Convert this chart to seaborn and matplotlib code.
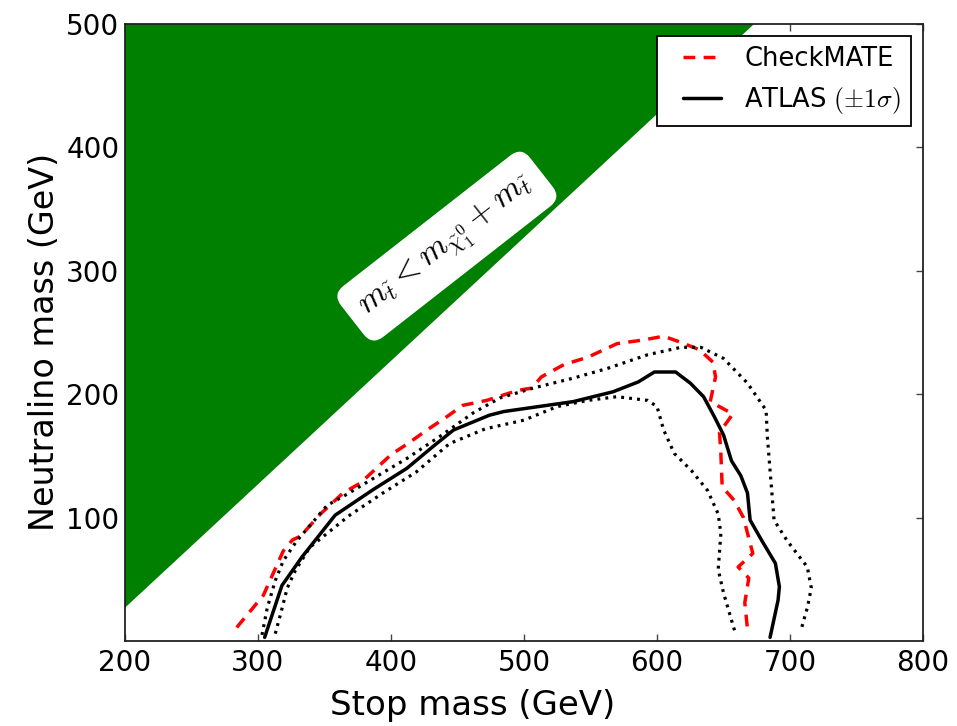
import numpy as np
import pandas as pd
import matplotlib
matplotlib.use("Agg")
import matplotlib.pyplot as plt
from matplotlib.legend_handler import HandlerLine2D
import seaborn as sns

# ---------------- data ----------------
checkmate_x = [284, 304, 319, 326, 332, 347, 364, 377, 389, 400, 414, 427, 441, 454, 472,
               495, 506, 513, 530, 548, 570, 590, 605, 618, 632, 642, 644, 640, 657, 647,
               648, 649, 658, 665, 672, 661, 669, 666, 668]
checkmate_y = [11, 37, 73, 82, 85, 103, 120, 128, 140, 151, 161, 171, 181, 191, 195,
               203, 205, 214, 224, 230, 241, 244, 247, 242, 236, 226, 214, 194, 184, 169,
               152, 125, 114, 100, 71, 60, 51, 31, 10]

atlas_x = [305, 318, 333, 358, 387, 412, 432, 447, 474, 485, 537, 567, 586, 598, 614,
           625, 635, 643, 650, 656, 663, 668, 670, 679, 689, 692, 691, 685]
atlas_y = [3, 45, 68, 102, 123, 140, 158, 171, 183, 186, 194, 202, 210, 218, 218,
           209, 198, 182, 167, 146, 134, 120, 98, 81, 63, 44, 33, 3]

atlas_up_x = [303, 307, 313, 319, 329, 341, 352, 367, 387, 412, 437, 462, 482, 507, 537,
              563, 593, 618, 633, 650, 668, 682, 683, 686, 688, 698, 713, 716, 713, 708]
atlas_up_y = [5, 27, 49, 65, 81, 96, 110, 119, 132, 148, 166, 185, 197, 205, 213,
              221, 232, 238, 238, 229, 209, 187, 165, 125, 98, 81, 60, 43, 27, 8]

atlas_dn_x = [313, 317, 322, 328, 339, 354, 369, 394, 419, 444, 471, 500, 525, 548, 570,
              593, 600, 605, 613, 626, 638, 646, 648, 646, 650, 659]
atlas_dn_y = [6, 22, 43, 57, 76, 89, 102, 120, 137, 160, 172, 179, 190, 195, 198,
              195, 190, 171, 152, 138, 122, 103, 87, 58, 39, 6]

m_top = 173.0
stop_range = [200, 800]
x_ticks = [200, 300, 400, 500, 600, 700, 800]
y_ticks = [100, 200, 300, 400, 500]

# ---------------- style ----------------
sns.set_style("ticks")
plt.rcParams['font.family'] = ['DejaVu Sans']
plt.rcParams['mathtext.fontset'] = 'cm'
plt.rcParams['text.color'] = 'black'
plt.rcParams['axes.labelcolor'] = 'black'
plt.rcParams['xtick.labelcolor'] = 'black'
plt.rcParams['ytick.labelcolor'] = 'black'

fig = plt.figure(figsize=(9.57, 7.26), dpi=100)
ax = fig.add_axes([0.1306, 0.117, 0.9645 - 0.1306, 0.967 - 0.117])

# kinematically forbidden region
xs = np.array(stop_range, dtype=float)
ax.fill_between(xs, xs - m_top, 500, color='green', linewidth=0, zorder=1)

df_cm = pd.DataFrame({'x': checkmate_x, 'y': checkmate_y})
df_at = pd.DataFrame({'x': atlas_x, 'y': atlas_y})
df_up = pd.DataFrame({'x': atlas_up_x, 'y': atlas_up_y})
df_dn = pd.DataFrame({'x': atlas_dn_x, 'y': atlas_dn_y})

sns.lineplot(data=df_cm, x='x', y='y', sort=False, estimator=None, ax=ax,
             color='red', linewidth=2.5, zorder=3)
line_cm = ax.lines[-1]
line_cm.set_dashes((3.4, 2.4))
sns.lineplot(data=df_at, x='x', y='y', sort=False, estimator=None, ax=ax,
             color='black', linewidth=2.5, zorder=3)
line_at = ax.lines[-1]
for d in (df_up, df_dn):
    sns.lineplot(data=d, x='x', y='y', sort=False, estimator=None, ax=ax,
                 color='black', linewidth=2.3, zorder=3)
    ax.lines[-1].set_dashes((0.9, 1.6))

ax.text(442, 320, r'$m_{\tilde{t}}<m_{\tilde{\chi}_1^0}+m_{\tilde{t}}$',
        rotation=38, ha='center', va='center', fontsize=24, zorder=4,
        rotation_mode='anchor',
        bbox=dict(boxstyle='round,pad=0.4', fc='white', ec='white'))

ax.set_xlim(200, 800)
ax.set_ylim(0, 500)
ax.set_xticks(x_ticks)
ax.set_yticks(y_ticks)
ax.tick_params(direction='in', top=True, right=True, length=5, width=1,
               labelsize=20, color='#444444', labelcolor='black')
ax.tick_params(axis='x', pad=6)
ax.tick_params(axis='y', pad=4)
for s in ax.spines.values():
    s.set_color('#222222')
    s.set_linewidth(1.3)
    s.set_visible(True)

ax.set_xlabel('Stop mass (GeV)', fontsize=24.5, color='black')
ax.set_ylabel('Neutralino mass (GeV)', fontsize=24, color='black')
ax.xaxis.set_label_coords(0.436, -0.077)
ax.yaxis.set_label_coords(-0.08, 0.485)

leg = ax.legend([line_cm, line_at], ['CheckMATE', r'ATLAS $(\pm1\sigma)$'],
                loc='upper right', fontsize=18.5, frameon=True, fancybox=False,
                framealpha=1, edgecolor='black', borderaxespad=0.45,
                handlelength=2.1, handletextpad=0.9, borderpad=0.4,
                handler_map={line_cm: HandlerLine2D(xpad=0.6),
                             line_at: HandlerLine2D(xpad=0.6)})
leg.get_frame().set_linewidth(1.3)

fig.savefig('out.png', dpi=100)
